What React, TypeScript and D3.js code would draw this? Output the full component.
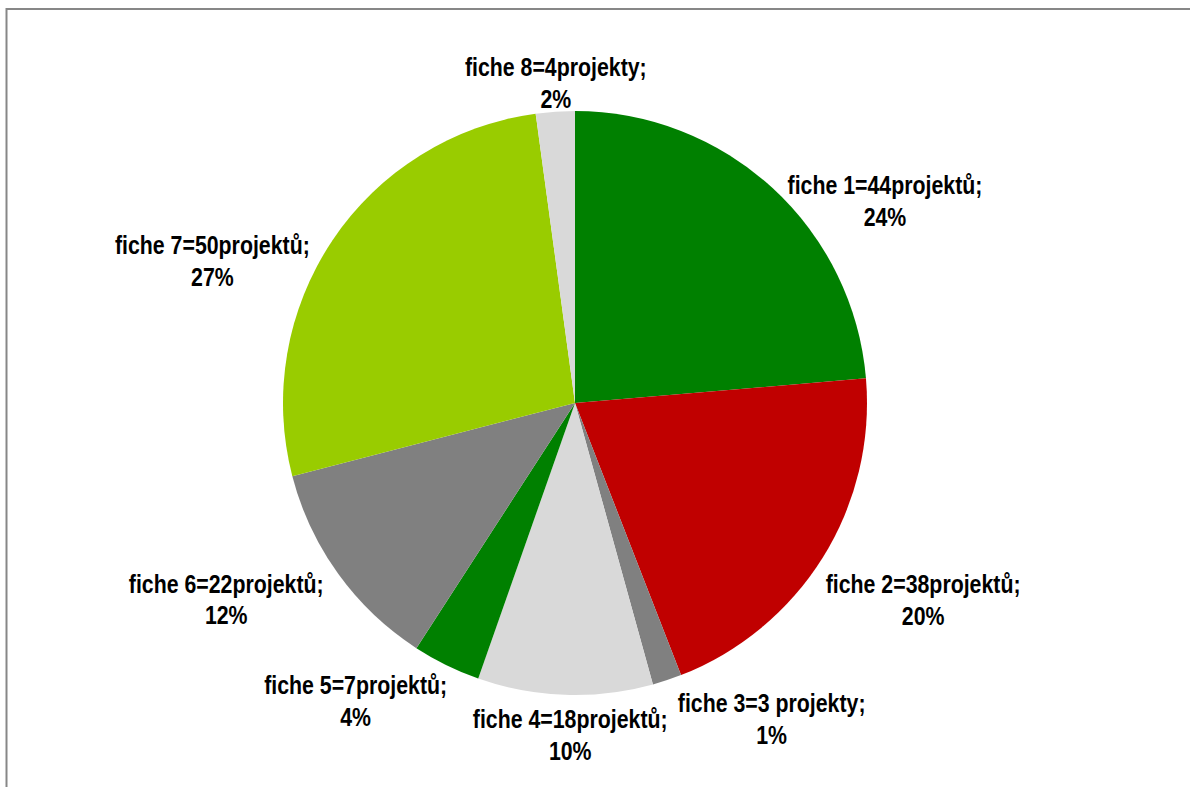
import React from "react";
import * as d3 from "d3";

const categories = ["fiche 1", "fiche 2", "fiche 3", "fiche 4", "fiche 5", "fiche 6", "fiche 7", "fiche 8"];
const projects = [44, 38, 3, 18, 7, 22, 50, 4];
const labelTexts = [
  "fiche 1=44projektů;",
  "fiche 2=38projektů;",
  "fiche 3=3 projekty;",
  "fiche 4=18projektů;",
  "fiche 5=7projektů;",
  "fiche 6=22projektů;",
  "fiche 7=50projektů;",
  "fiche 8=4projekty;"
];
const percentTexts = ["24%", "20%", "1%", "10%", "4%", "12%", "27%", "2%"];
const colors = ["#008000", "#C00000", "#808080", "#D9D9D9", "#008000", "#808080", "#99CC00", "#D9D9D9"];

// small nudges to follow Excel's own label placement
const labelNudge: [number, number][] = [
  [34, 47], [2, 15], [68, -10], [9, -11], [-42, -10], [-18, -5], [-24, 46], [8, 18]
];

const width = 1190;
const height = 787;
const cx = 575;
const cy = 403;
const radius = 292;
const fontSize = 26;
const lineGap = 32;
// Arial Narrow is Arial at 82% width, so squeeze Liberation Sans
const narrow = 0.82;

export default function App() {
  const data = categories.map((c, i) => ({ name: c, value: projects[i], i }));
  const pie = d3.pie<any>().value(d => d.value).sort(null);
  const arcs = pie(data);
  const arc = d3.arc<any>().innerRadius(0).outerRadius(radius);

  const labelR = 310;
  const halfH = 31;

  return (
    <svg
      width={width}
      height={height}
      style={{ position: "absolute", left: 0, top: 0 }}
      fontFamily="'Liberation Sans', Arial, sans-serif"
    >
      <rect x={0} y={0} width={width} height={height} fill="#fff" />
      <rect x={6.5} y={9} width={1220} height={820} fill="none" stroke="#878787" strokeWidth={2} />
      <g transform={`translate(${cx},${cy})`}>
        {arcs.map((a, i) => (
          <path key={categories[i]} d={arc(a) || ""} fill={colors[i]} />
        ))}
        {arcs.map((a, i) => {
          const mid = (a.startAngle + a.endAngle) / 2;
          const s = Math.sin(mid);
          const c = Math.cos(mid);
          const halfW = (labelTexts[i].length * 10.3) / 2;
          const x = s * (labelR + halfW) + labelNudge[i][0];
          const y = -c * (labelR + halfH) + labelNudge[i][1];
          return (
            <g key={"l" + i} transform={`translate(${x},${y}) scale(${narrow},1)`}>
              <text textAnchor="middle" fontSize={fontSize} fontWeight="bold" fill="#000">
                <tspan x={0} y={-5}>{labelTexts[i]}</tspan>
                <tspan x={0} y={-5 + lineGap}>{percentTexts[i]}</tspan>
              </text>
            </g>
          );
        })}
      </g>
    </svg>
  );
}
